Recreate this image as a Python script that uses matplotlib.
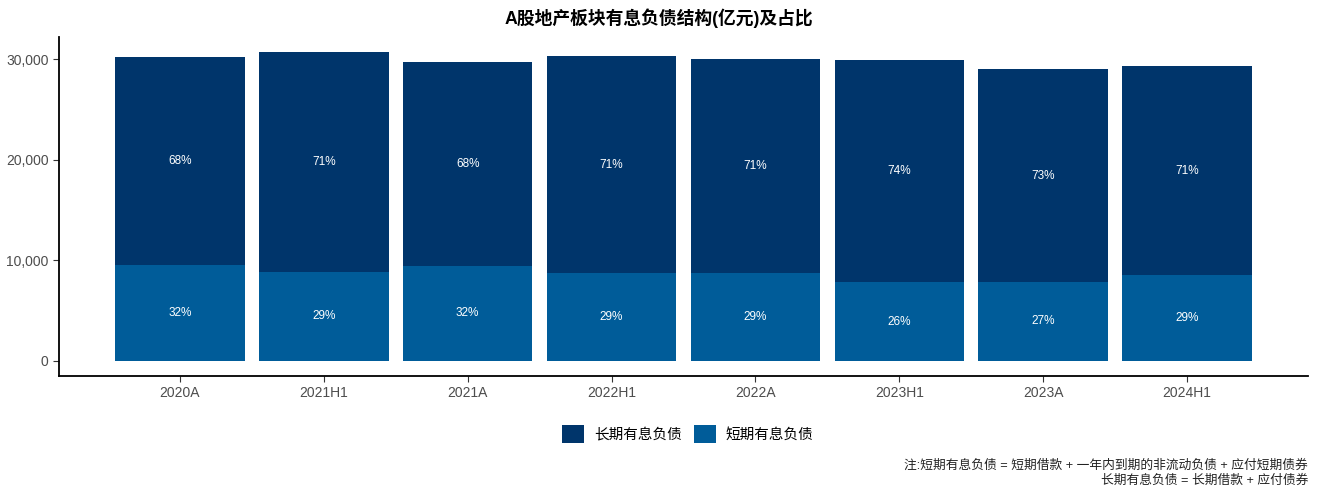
import matplotlib.pyplot as plt
import numpy as np
from matplotlib.ticker import FuncFormatter

plt.rcParams["font.family"] = ["Liberation Sans", "Noto Sans CJK SC", "DejaVu Sans"]

# Data (亿元)
periods = ["2020A", "2021H1", "2021A", "2022H1", "2022A", "2023H1", "2023A", "2024H1"]
total_debt = [30200, 30700, 29700, 30300, 30000, 29900, 29000, 29300]
short_debt = [9550, 8850, 9450, 8700, 8750, 7780, 7850, 8550]
short_pct = [32, 29, 32, 29, 29, 26, 27, 29]
long_pct = [68, 71, 68, 71, 71, 74, 73, 71]

long_debt = [t - s for t, s in zip(total_debt, short_debt)]

LONG_COLOR = "#00356B"
SHORT_COLOR = "#005C99"

fig = plt.figure(figsize=(13.18, 4.92), dpi=100)
ax = fig.add_axes([59 / 1318, 116 / 492, 1249 / 1318, 339 / 492])

x = np.arange(len(periods))
width = 0.9
ax.bar(x, short_debt, width, color=SHORT_COLOR, label="短期有息负债")
ax.bar(x, long_debt, width, bottom=short_debt, color=LONG_COLOR, label="长期有息负债")

# Percentage labels in the middle of each segment
for i in range(len(periods)):
    ax.text(x[i], short_debt[i] / 2, f"{short_pct[i]}%", ha="center", va="center",
            color="white", fontsize=8.5)
    ax.text(x[i], short_debt[i] + long_debt[i] / 2, f"{long_pct[i]}%", ha="center",
            va="center", color="white", fontsize=8.5)

ax.set_xlim(-0.84, len(periods) - 1 + 0.84)
ax.set_ylim(-1535, 32235)
ax.set_xticks(x)
ax.set_xticklabels(periods)
ax.set_yticks([0, 10000, 20000, 30000])
ax.yaxis.set_major_formatter(FuncFormatter(lambda v, p: f"{int(v):,}"))
ax.tick_params(axis="both", labelsize=10, labelcolor="#4D4D4D", color="#333333", length=4)

for side in ["top", "right"]:
    ax.spines[side].set_visible(False)
for side in ["left", "bottom"]:
    ax.spines[side].set_linewidth(1.3)
    ax.spines[side].set_color("black")

fig.suptitle("A股地产板块有息负债结构(亿元)及占比", x=0.5, y=1 - 18 / 492, va="center",
             fontsize=12.8, fontweight="bold")

handles, labels = ax.get_legend_handles_labels()
fig.legend(handles[::-1], labels[::-1], loc="center", bbox_to_anchor=(0.522, 1 - 434 / 492),
           ncol=2, frameon=False, fontsize=10.5, handlelength=1.5, handleheight=1.5,
           columnspacing=0.8, handletextpad=0.7)

fig.text(1308 / 1318, 1 - 466 / 492, "注:短期有息负债 = 短期借款 + 一年内到期的非流动负债 + 应付短期债券",
         ha="right", va="center", fontsize=9.2, color="#222222")
fig.text(1308 / 1318, 1 - 481 / 492, "长期有息负债 = 长期借款 + 应付债券",
         ha="right", va="center", fontsize=9.2, color="#222222")

fig.savefig("out.png", dpi=100)
